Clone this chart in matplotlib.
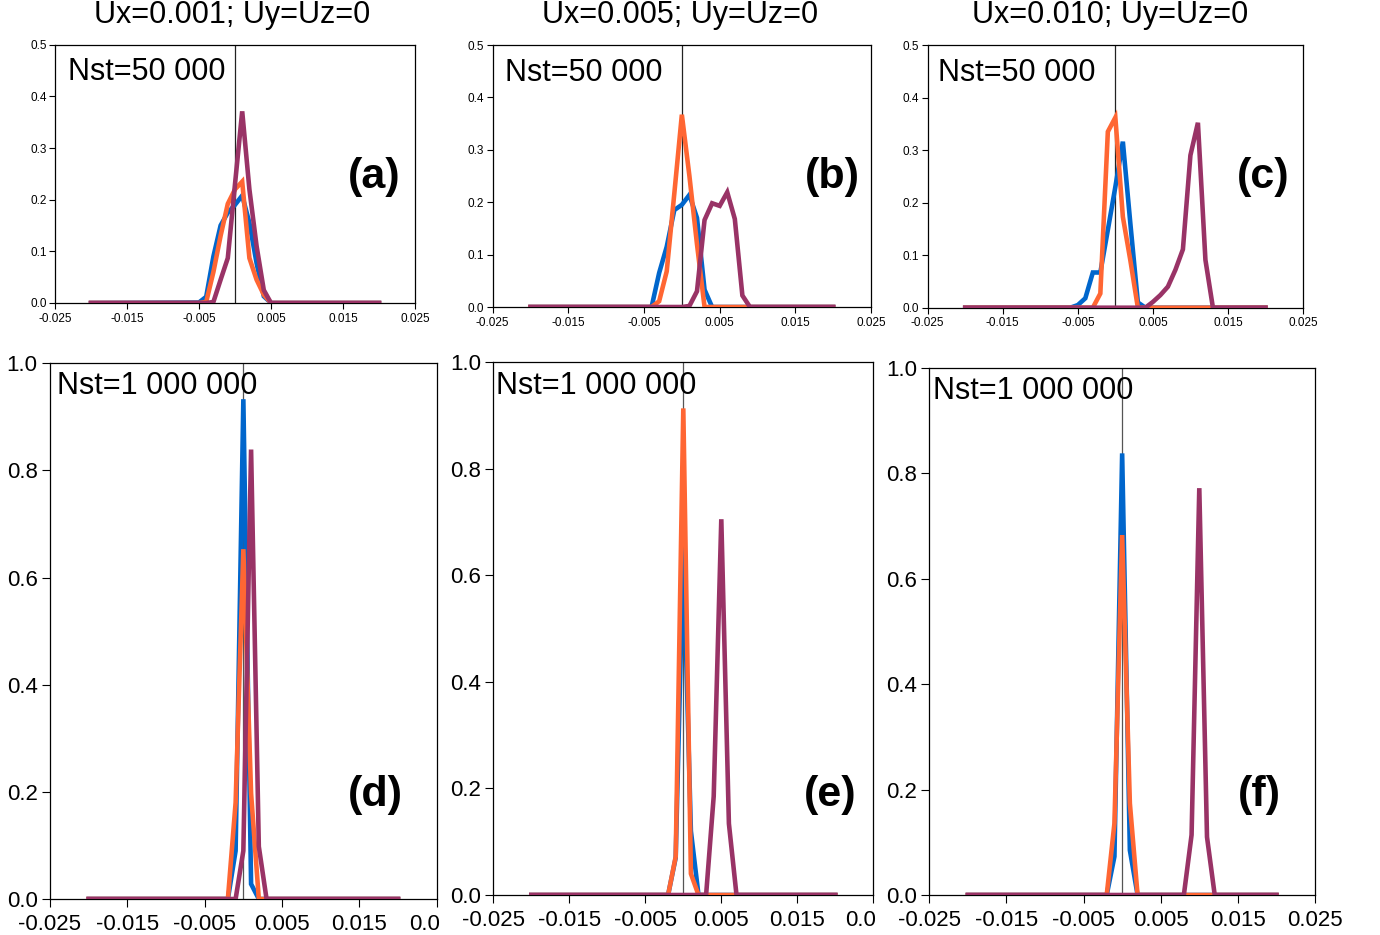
import matplotlib
matplotlib.use("Agg")
import matplotlib.pyplot as plt
from matplotlib.transforms import Bbox, TransformedBbox

plt.rcParams['font.family'] = ['Liberation Sans', 'DejaVu Sans']

W, H = 1380, 935

# ---------------- data ----------------
titles = ["Ux=0.001; Uy=Uz=0", "Ux=0.005; Uy=Uz=0", "Ux=0.010; Uy=Uz=0"]
panel_labels = ["(a)", "(b)", "(c)", "(d)", "(e)", "(f)"]
nst_labels = ["Nst=50 000", "Nst=50 000", "Nst=50 000",
              "Nst=1 000 000", "Nst=1 000 000", "Nst=1 000 000"]

xtick_vals = [-0.025, -0.015, -0.005, 0.005, 0.015, 0.025]
xtick_labels = ["-0.025", "-0.015", "-0.005", "0.005", "0.015", "0.025"]
ytick_top = [0.0, 0.1, 0.2, 0.3, 0.4, 0.5]
ytick_top_labels = ["0.0", "0.1", "0.2", "0.3", "0.4", "0.5"]
ytick_bot = [0.0, 0.2, 0.4, 0.6, 0.8, 1.0]
ytick_bot_labels = ["0.0", "0.2", "0.4", "0.6", "0.8", "1.0"]

# panel (a)
a_x = [-0.020, -0.005, -0.004, -0.003, -0.002, -0.001, 0.000, 0.001, 0.002, 0.003, 0.004, 0.005, 0.020]
a_blue = [0, 0.001, 0.012, 0.09, 0.15, 0.175, 0.19, 0.208, 0.155, 0.077, 0.013, 0, 0]
a_orange = [0, 0, 0.002, 0.06, 0.13, 0.192, 0.22, 0.235, 0.087, 0.045, 0.016, 0, 0]
a_purple = [0, 0, 0, 0.002, 0.045, 0.087, 0.23, 0.371, 0.22, 0.11, 0.025, 0, 0]

# panel (b)
b_x = [-0.020, -0.004, -0.003, -0.002, -0.001, 0.000, 0.001, 0.002, 0.003, 0.004, 0.005, 0.006, 0.007, 0.008, 0.009, 0.020]
b_blue = [0, 0, 0.065, 0.115, 0.185, 0.195, 0.214, 0.17, 0.033, 0, 0, 0, 0, 0, 0, 0]
b_orange = [0, 0, 0.011, 0.068, 0.216, 0.367, 0.25, 0.12, 0, 0, 0, 0, 0, 0, 0, 0]
b_purple = [0, 0, 0, 0, 0, 0, 0.002, 0.03, 0.166, 0.198, 0.193, 0.219, 0.168, 0.022, 0, 0]

# panel (c)
c_x = [-0.020, -0.006, -0.005, -0.004, -0.003, -0.002, -0.001, 0.000, 0.001, 0.002, 0.003,
       0.004, 0.005, 0.006, 0.007, 0.008, 0.009, 0.010, 0.011, 0.012, 0.013, 0.020]
c_blue = [0, 0, 0.005, 0.018, 0.067, 0.067, 0.148, 0.23, 0.316, 0.16, 0.01,
          0, 0, 0, 0, 0, 0, 0, 0, 0, 0, 0]
c_orange = [0, 0, 0, 0, 0, 0.027, 0.335, 0.362, 0.173, 0.09, 0,
            0, 0, 0, 0, 0, 0, 0, 0, 0, 0, 0]
c_purple = [0, 0, 0, 0, 0, 0, 0, 0, 0, 0, 0,
            0, 0.011, 0.024, 0.04, 0.072, 0.111, 0.29, 0.352, 0.091, 0, 0]

# panel (d)
d_x = [-0.020, -0.002, -0.001, 0.000, 0.001, 0.002, 0.003, 0.020]
d_blue = [0, 0, 0.09, 0.933, 0.028, 0, 0, 0]
d_orange = [0, 0, 0.18, 0.653, 0.197, 0, 0, 0]
d_purple = [0, 0, 0, 0.09, 0.839, 0.098, 0, 0]

# panel (e)
e_x = [-0.020, -0.002, -0.001, 0.000, 0.001, 0.002, 0.003, 0.004, 0.005, 0.006, 0.007, 0.020]
e_blue = [0, 0, 0.07, 0.65, 0.12, 0, 0, 0, 0, 0, 0, 0]
e_orange = [0, 0, 0.072, 0.913, 0.04, 0, 0, 0, 0, 0, 0, 0]
e_purple = [0, 0, 0, 0, 0, 0, 0, 0.185, 0.705, 0.134, 0, 0]

# panel (f)
f_x = [-0.020, -0.002, -0.001, 0.000, 0.001, 0.002, 0.008, 0.009, 0.010, 0.011, 0.012, 0.020]
f_blue = [0, 0, 0.073, 0.838, 0.085, 0, 0, 0, 0, 0, 0, 0]
f_orange = [0, 0, 0.136, 0.683, 0.174, 0, 0, 0, 0, 0, 0, 0]
f_purple = [0, 0, 0, 0, 0, 0, 0, 0.114, 0.772, 0.11, 0, 0]

panels = [
    (a_x, a_blue, a_orange, a_purple),
    (b_x, b_blue, b_orange, b_purple),
    (c_x, c_blue, c_orange, c_purple),
    (d_x, d_blue, d_orange, d_purple),
    (e_x, e_blue, e_orange, e_purple),
    (f_x, f_blue, f_orange, f_purple),
]

BLUE = "#0066CC"
ORANGE = "#FF6633"
PURPLE = "#993366"

# ---------------- layout (pixel boxes: left, top, right, bottom) ----------------
boxes = [
    (55, 44.7, 415, 303),
    (492.7, 45, 871, 307),
    (927.7, 45, 1303, 307.7),
    (50, 363.3, 436.7, 899),
    (493.3, 362, 873.3, 895),
    (929.3, 368, 1315, 895),
]
title_pos = [(232, 15), (680, 15), (1110, 15)]
nst_pos = [(68, 72), (505, 73), (938, 73), (57, 386), (496, 386), (933, 391)]
lab_pos = [(374, 177), (832, 177), (1263, 177), (375, 795), (830, 795), (1259, 795)]
clip_right = [None, None, None, 440, 877, None]

fig = plt.figure(figsize=(W / 100, H / 100), dpi=100)


def fx(x):
    return x / W


def fy(y):
    return 1 - y / H


for i, (box, data) in enumerate(zip(boxes, panels)):
    l, t, r, b = box
    ax = fig.add_axes([fx(l), fy(b), (r - l) / W, (b - t) / H])
    x, yb, yo, yp = data
    top = i < 3
    lw = 3.3
    ax.plot(x, yb, color=BLUE, lw=lw, solid_joinstyle='miter', zorder=3)
    ax.plot(x, yo, color=ORANGE, lw=lw, solid_joinstyle='miter', zorder=4)
    ax.plot(x, yp, color=PURPLE, lw=lw, solid_joinstyle='miter', zorder=5)
    ax.axvline(0, color="#222222" if top else "#555555", lw=0.9, zorder=2)
    ax.set_xlim(-0.025, 0.025)
    ax.set_ylim(0, 0.5 if top else 1.0)
    ax.set_xticks(xtick_vals)
    fs = 8.5 if top else 16
    xl = ax.set_xticklabels(xtick_labels, fontsize=fs)
    if top:
        ax.set_yticks(ytick_top)
        ax.set_yticklabels(ytick_top_labels, fontsize=fs)
    else:
        ax.set_yticks(ytick_bot)
        ax.set_yticklabels(ytick_bot_labels, fontsize=fs)
    ax.tick_params(axis='x', direction='out', length=4 if top else 6, width=0.8,
                   pad=3 if top else 5, colors='black')
    ax.tick_params(axis='y', direction='out', length=4 if top else 6, width=0.8,
                   pad=2 if top else 3, colors='black')
    for s in ax.spines.values():
        s.set_linewidth(0.9)
        s.set_color('black')
    if clip_right[i] is not None:
        cb = TransformedBbox(Bbox([[0, 0], [clip_right[i] / W, 1]]), fig.transFigure)
        for t_ in xl:
            t_.set_clip_box(cb)
            t_.set_clip_on(True)

    fig.text(fx(nst_pos[i][0]), fy(nst_pos[i][1]), nst_labels[i], fontsize=22,
             ha='left', va='center')
    fig.text(fx(lab_pos[i][0]), fy(lab_pos[i][1]), panel_labels[i], fontsize=31,
             fontweight='bold', ha='center', va='center')

for i in range(3):
    fig.text(fx(title_pos[i][0]), fy(title_pos[i][1]), titles[i], fontsize=22,
             ha='center', va='center')

fig.savefig("out.png", dpi=100)
